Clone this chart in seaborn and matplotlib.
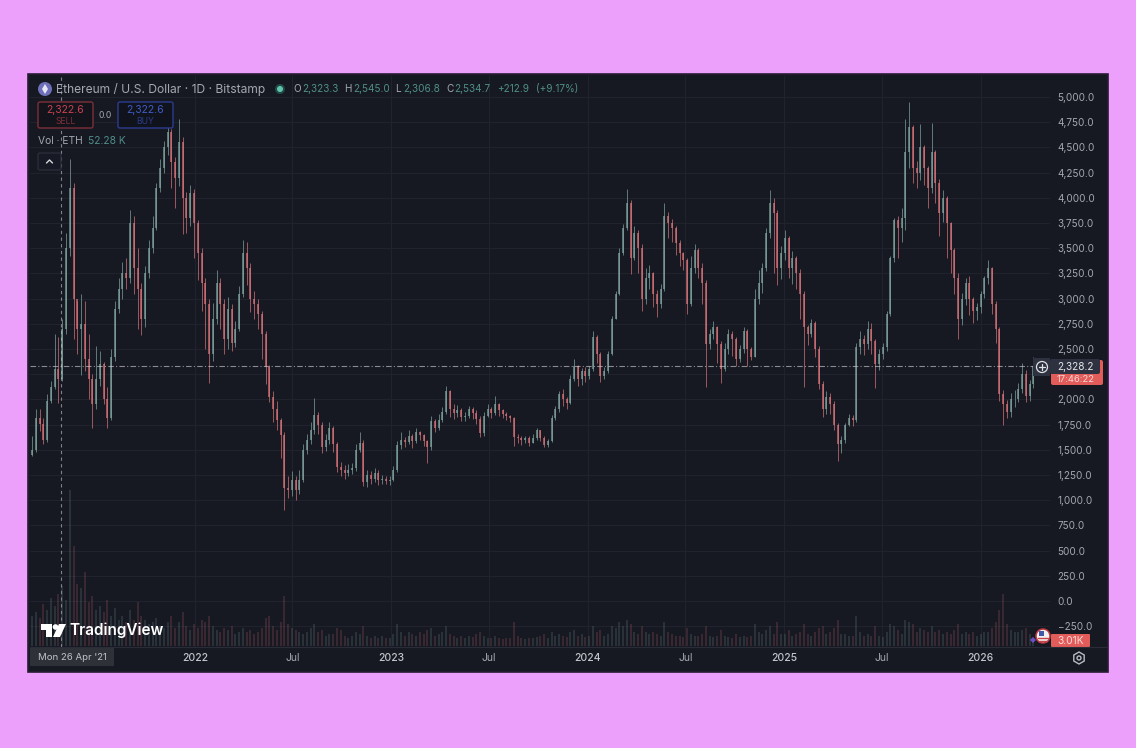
import pandas as pd
import seaborn as sns
import matplotlib as mpl
import matplotlib.pyplot as plt
from matplotlib.patches import Circle, FancyBboxPatch, Polygon, Rectangle, RegularPolygon
mpl.use('Agg')

first_open = 1450
closes = [
    1500, 1820, 1760, 1600, 1980, 2120, 2300, 2200, 2700, 3500,
    4100, 3000, 2700, 2750, 2400, 2200, 1950, 2200, 2350, 2000,
    1820, 2420, 2900, 3100, 3250, 3200, 3750, 3300, 3100, 2800,
    3250, 3500, 3700, 4100, 4300, 4500, 4650, 4350, 4200, 4550,
    4000, 3800, 4050, 3750, 3450, 3150, 2950, 2450, 2800, 3150,
    2950, 2600, 2900, 2560, 2700, 3050, 3450, 3300, 3000, 2950,
    2850, 2650, 2320, 2020, 1900, 1800, 1650, 1120, 1100, 1200,
    1100, 1200, 1500, 1600, 1700, 1850, 1750, 1530, 1600, 1720,
    1560, 1330, 1300, 1270, 1300, 1320, 1500, 1570, 1180, 1250,
    1210, 1270, 1200, 1210, 1190, 1200, 1300, 1550, 1600, 1580,
    1640, 1590, 1680, 1650, 1590, 1530, 1790, 1720, 1800, 1880,
    2080, 1900, 1870, 1890, 1830, 1840, 1900, 1870, 1810, 1670,
    1840, 1900, 1870, 1950, 1890, 1860, 1840, 1820, 1630, 1620,
    1600, 1620, 1570, 1620, 1700, 1620, 1550, 1590, 1820, 1900,
    2050, 2000, 1960, 2200, 2330, 2200, 2280, 2230, 2300, 2620,
    2450, 2230, 2280, 2450, 2800, 3050, 3450, 3700, 3950, 3400,
    3650, 3500, 3000, 3200, 3250, 3050, 2950, 3100, 3820, 3750,
    3700, 3550, 3450, 3380, 2950, 3300, 3480, 3300, 3150, 2550,
    2650, 2720, 2550, 2300, 2500, 2650, 2600, 2400, 2500, 2680,
    2500, 2420, 3000, 3150, 3300, 3650, 3950, 3850, 3300, 3450,
    3600, 3300, 3400, 3250, 3050, 2720, 2650, 2760, 2500, 2150,
    1900, 2020, 1950, 1750, 1560, 1600, 1750, 1820, 1800, 2520,
    2600, 2550, 2700, 2580, 2350, 2450, 2520, 2850, 3400, 3780,
    3700, 3800, 4450, 4700, 4300, 4250, 4500, 4300, 4100, 4450,
    4150, 3850, 4000, 3750, 3480, 3200, 2800, 3000, 3150, 3000,
    2880, 2920, 3050, 3200, 3300, 2950, 2700, 2050, 1950, 1880,
    2000, 2000, 2100, 2250, 2030, 2150, 2330]
highs = [
    1640, 1900, 1900, 1820, 2050, 2180, 2650, 2620, 2800, 3650,
    4380, 4150, 2980, 3050, 2980, 2650, 2250, 2530, 2480, 2370,
    2120, 2500, 2980, 3200, 3360, 3400, 3880, 3820, 3500, 3150,
    3320, 3580, 3820, 4150, 4380, 4560, 4720, 4680, 4400, 4780,
    4600, 4060, 4130, 4090, 3780, 3500, 3200, 3000, 2960, 3280,
    3200, 3000, 3020, 2950, 2780, 3120, 3580, 3560, 3350, 3080,
    3000, 2880, 2680, 2340, 2080, 1980, 1820, 1680, 1240, 1290,
    1240, 1300, 1560, 1660, 1780, 2010, 1880, 1780, 1660, 1780,
    1740, 1580, 1380, 1350, 1360, 1370, 1560, 1680, 1600, 1300,
    1290, 1320, 1300, 1250, 1240, 1240, 1340, 1590, 1680, 1630,
    1700, 1660, 1720, 1690, 1660, 1600, 1840, 1810, 1860, 1920,
    2130, 2090, 1950, 1940, 1910, 1880, 1930, 1920, 1890, 1840,
    1880, 1950, 1920, 2030, 1960, 1900, 1880, 1850, 1830, 1660,
    1640, 1640, 1640, 1660, 1720, 1700, 1640, 1610, 1850, 1930,
    2080, 2100, 2020, 2240, 2400, 2340, 2310, 2320, 2330, 2680,
    2640, 2470, 2320, 2480, 2830, 3080, 3500, 3740, 4090, 3980,
    3720, 3680, 3540, 3300, 3330, 3260, 3090, 3140, 3950, 3860,
    3790, 3720, 3580, 3460, 3400, 3420, 3540, 3500, 3350, 3180,
    2700, 2780, 2730, 2580, 2560, 2700, 2680, 2620, 2540, 2720,
    2700, 2520, 3100, 3280, 3350, 3700, 4080, 4000, 3880, 3520,
    3680, 3620, 3470, 3420, 3290, 3080, 2740, 2800, 2780, 2530,
    2180, 2080, 2060, 1980, 1770, 1640, 1770, 1860, 1850, 2560,
    2680, 2640, 2780, 2760, 2600, 2500, 2560, 2880, 3420, 3800,
    3820, 3900, 4780, 4950, 4720, 4360, 4730, 4520, 4320, 4740,
    4470, 4190, 4080, 4020, 3760, 3500, 3250, 3060, 3200, 3220,
    3020, 2960, 3080, 3220, 3380, 3310, 2980, 2720, 2090, 1990,
    2060, 2090, 2160, 2360, 2290, 2190, 2420]
lows = [
    1440, 1480, 1690, 1560, 1580, 1960, 2100, 1960, 2180, 2650,
    3420, 2600, 2450, 2240, 2280, 2000, 1720, 1900, 2130, 1950,
    1720, 1800, 2380, 2860, 3000, 3100, 3150, 3050, 2700, 2640,
    2720, 3200, 3450, 3680, 4060, 4250, 4420, 4100, 3900, 4120,
    3640, 3650, 3720, 3400, 3180, 2880, 2500, 2160, 2380, 2750,
    2700, 2450, 2500, 2480, 2520, 2680, 3020, 3130, 2870, 2800,
    2700, 2400, 2150, 1970, 1780, 1700, 1420, 900, 1020, 1040,
    1000, 1060, 1180, 1460, 1560, 1660, 1660, 1470, 1490, 1560,
    1480, 1280, 1240, 1210, 1240, 1260, 1290, 1480, 1140, 1130,
    1160, 1180, 1150, 1160, 1160, 1150, 1190, 1280, 1510, 1530,
    1560, 1520, 1570, 1600, 1540, 1370, 1500, 1680, 1700, 1780,
    1860, 1830, 1810, 1830, 1790, 1790, 1820, 1810, 1760, 1630,
    1640, 1830, 1820, 1850, 1840, 1820, 1800, 1780, 1540, 1570,
    1550, 1570, 1540, 1570, 1600, 1590, 1530, 1530, 1580, 1800,
    1880, 1930, 1900, 1950, 2180, 2130, 2140, 2170, 2200, 2280,
    2360, 2170, 2200, 2260, 2440, 2800, 3040, 3430, 3680, 3240,
    3380, 3250, 2880, 2950, 3100, 2920, 2820, 2910, 3080, 3600,
    3560, 3430, 3320, 3280, 2850, 2930, 3250, 3200, 2950, 2120,
    2500, 2600, 2360, 2160, 2280, 2450, 2430, 2330, 2370, 2460,
    2330, 2390, 2420, 2950, 3060, 3270, 3600, 3250, 3130, 3190,
    3380, 3200, 3140, 3100, 2800, 2120, 2540, 2620, 2420, 2100,
    1830, 1860, 1860, 1700, 1390, 1470, 1570, 1740, 1740, 1780,
    2450, 2440, 2500, 2450, 2110, 2290, 2400, 2480, 2830, 3360,
    3400, 3560, 3680, 4300, 4150, 4100, 4180, 4130, 3900, 4050,
    3950, 3620, 3760, 3400, 3250, 3050, 2600, 2740, 2940, 2840,
    2760, 2790, 2860, 3010, 3140, 2850, 2560, 1980, 1750, 1820,
    1830, 1920, 1970, 2060, 1970, 1980, 2110]
volumes = [
    30, 34, 28, 42, 36, 48, 40, 52, 60, 46,
    156, 100, 62, 58, 74, 44, 50, 36, 40, 34,
    46, 30, 38, 26, 30, 24, 36, 26, 44, 30,
    26, 22, 24, 28, 20, 18, 24, 30, 18, 24,
    34, 20, 16, 22, 18, 26, 24, 30, 20, 16,
    14, 18, 16, 20, 12, 14, 18, 14, 16, 12,
    14, 18, 28, 30, 20, 16, 24, 50, 22, 18,
    16, 14, 12, 14, 18, 22, 14, 16, 10, 12,
    12, 18, 16, 10, 8, 10, 14, 12, 20, 10,
    8, 10, 8, 10, 8, 8, 12, 22, 14, 10,
    14, 12, 10, 14, 12, 16, 18, 10, 12, 14,
    20, 12, 10, 8, 10, 8, 10, 9, 12, 14,
    10, 8, 8, 10, 8, 7, 8, 8, 24, 10,
    8, 7, 8, 8, 9, 10, 12, 8, 14, 10,
    12, 10, 9, 14, 16, 10, 12, 9, 10, 20,
    14, 16, 10, 12, 20, 18, 24, 20, 26, 22,
    14, 12, 20, 14, 12, 14, 12, 10, 24, 14,
    12, 10, 10, 9, 18, 12, 10, 10, 12, 20,
    10, 9, 10, 16, 10, 9, 8, 12, 9, 10,
    9, 10, 22, 14, 12, 16, 20, 12, 24, 12,
    12, 16, 10, 12, 14, 22, 12, 10, 14, 18,
    20, 12, 14, 18, 26, 12, 12, 10, 10, 30,
    14, 10, 12, 10, 20, 10, 9, 14, 22, 20,
    16, 12, 26, 24, 22, 14, 18, 16, 14, 20,
    14, 16, 12, 14, 12, 16, 22, 12, 14, 12,
    14, 10, 12, 14, 14, 18, 24, 36, 52, 22,
    16, 14, 14, 16, 18, 12, 8]

price_ticks = [-250, 0, 250, 500, 750, 1000, 1250, 1500, 1750, 2000, 2250, 2500,
               2750, 3000, 3250, 3500, 3750, 4000, 4250, 4500, 4750, 5000]
time_ticks = ['2022-01-01', '2022-07-01', '2023-01-01', '2023-07-01', '2024-01-01',
              '2024-07-01', '2025-01-01', '2025-07-01', '2026-01-01']
time_labels = ['2022', 'Jul', '2023', 'Jul', '2024', 'Jul', '2025', 'Jul', '2026']
last_price = 2328.2
cross_date = '2021-04-26'

PINK = '#ec9ffb'
PANE = '#161822'
GRID = '#20232e'
UP = '#80a5a0'
DOWN = '#d8747a'
TEXT = '#a4a7b0'
TEAL = '#4f8f86'

sns.set_theme(style='dark', rc={
    'figure.facecolor': PINK,
    'axes.facecolor': PANE,
    'axes.edgecolor': PANE,
    'grid.color': GRID,
    'grid.linewidth': 0.8,
})
plt.rcParams['font.family'] = ['Inter', 'DejaVu Sans']

W, H = 1136, 748
fig = plt.figure(figsize=(W / 100, H / 100), dpi=100)

# panel behind everything and a pixel layer on top for the UI bits
bg = fig.add_axes([0, 0, 1, 1], zorder=0)
bg.set_xlim(0, W)
bg.set_ylim(H, 0)
bg.axis('off')
bg.add_patch(Rectangle((28, 74), 1080, 598, fc=PANE, ec='#2a1d36', lw=1.2))

rect = [30 / W, 1 - 647 / H, 1020 / W, 571 / H]
ax = fig.add_axes(rect, zorder=1)
ax_vol = fig.add_axes(rect, zorder=2)
ax_vol.patch.set_alpha(0)
ax_ui = fig.add_axes([0, 0, 1, 1], zorder=3)
ax_ui.set_xlim(0, W)
ax_ui.set_ylim(H, 0)
ax_ui.axis('off')
ax_ui.patch.set_alpha(0)

dates = pd.date_range('2021-03-04', periods=len(closes), freq='7D')
opens = [first_open] + closes[:-1]
df = pd.DataFrame({'date': dates, 'open': opens, 'high': highs, 'low': lows,
                   'close': closes, 'vol': volumes})
df['side'] = ['up' if c >= o else 'down' for o, c in zip(df['open'], df['close'])]
df['idx'] = range(len(df))
palette = {'up': UP, 'down': DOWN}


def segments(lo, hi):
    long_df = df.melt(id_vars=['idx', 'date', 'side'], value_vars=[lo, hi], value_name='y')
    return long_df.sort_values(['idx', 'variable'])


def draw(target, data, width, alpha):
    sns.lineplot(data=data, x='date', y='y', units='idx', estimator=None, hue='side',
                 palette=palette, legend=False, ax=target, lw=width, alpha=alpha,
                 solid_capstyle='butt', sort=False)


draw(ax, segments('low', 'high'), 0.7, 0.7)
draw(ax, segments('open', 'close'), 1.15, 0.85)

df['base'] = 0
draw(ax_vol, segments('base', 'vol'), 1.2, 0.22)

xlim = (pd.Timestamp('2022-01-01') - pd.Timedelta(days=307),
        pd.Timestamp('2022-01-01') + pd.Timedelta(days=1590))
ax.set_xlim(xlim)
ax.set_ylim(-456, 5208)
ax_vol.set_xlim(xlim)
ax_vol.set_ylim(-1, 570)
ax_vol.axis('off')

ax.set_xlabel('')
ax.set_ylabel('')
ax.yaxis.tick_right()
ax.set_yticks(price_ticks)
ax.set_yticklabels([f'{v:,.1f}'.replace('-', '\u2212') for v in price_ticks], size=7.2, color=TEXT)
ax.set_xticks(pd.to_datetime(time_ticks))
ax.set_xticklabels(time_labels, size=7.5, color=TEXT)
for lab, txt in zip(ax.get_xticklabels(), time_labels):
    if txt != 'Jul':
        lab.set_fontweight('medium')
        lab.set_color('#c4c6cc')
ax.tick_params(axis='both', length=0)
ax.tick_params(axis='y', pad=5.5)
ax.tick_params(axis='x', pad=4.5)
ax.grid(True)
ax.set_axisbelow(True)
for s in ax.spines.values():
    s.set_visible(False)

ax.axhline(last_price, color='#c9c9cc', lw=0.8, ls=(0, (5, 2, 1, 2)), alpha=0.65)
ax.axvline(pd.Timestamp(cross_date), color='#c9c9cc', lw=0.8, ls=(0, (3, 3)), alpha=0.6)

# ---- UI layer, all in screen pixels
ui = ax_ui


def label(x, y, s, color=TEXT, size=8, ha='left', **kw):
    ui.text(x, y, s, color=color, size=size, ha=ha, va='center', **kw)


def box(x, y, w, h, fc, ec='none', lw=1, r=2):
    ui.add_patch(FancyBboxPatch((x + r, y + r), w - 2 * r, h - 2 * r,
                                boxstyle=f'round,pad={r}', fc=fc, ec=ec, lw=lw))


ui.plot([30, 1107], [647, 647], color='#2a2d38', lw=0.8)

# header
ui.add_patch(Circle((45, 89), 7, fc='#6d70b8', ec='none'))
ui.add_patch(Polygon([(45, 84), (48, 89), (45, 94), (42, 89)], fc='#e6e6f5', ec='none'))
label(56, 89, 'Ethereum / U.S. Dollar · 1D · Bitstamp', size=8.7)
ui.add_patch(Circle((280, 89), 5, fc='#1f4a47', ec='none'))
ui.add_patch(Circle((280, 89), 3, fc='#62c4ad', ec='none'))
for x, s, c in [(293, 'O', TEXT), (302, '2,323.3', TEAL), (344, 'H', TEXT), (353, '2,545.0', TEAL),
                (395, 'L', TEXT), (403, '2,306.8', TEAL), (446, 'C', TEXT), (454, '2,534.7', TEAL),
                (497, '+212.9', TEAL), (536, '(+9.17%)', TEAL)]:
    label(x, 89, s, color=c, size=7.2)

# sell / buy
box(38, 102, 55, 26, '#12131b', ec='#7c2f39')
label(65.5, 110, '2,322.6', color='#c8434f', size=7.5, ha='center')
label(65.5, 121, 'SELL', color='#7e2f38', size=6.2, ha='center')
label(105, 115, '0.0', size=6.2, ha='center')
box(118, 102, 55, 26, '#10121c', ec='#2c3d90')
label(145.5, 110, '2,322.6', color='#3f5cc8', size=7.5, ha='center')
label(145.5, 121, 'BUY', color='#2c3d88', size=6.2, ha='center')
label(38, 141, 'Vol · ETH', size=7.4)
label(88, 141, '52.28 K', color=TEAL, size=7.4)
box(38, 153, 23, 17, '#171a24', ec='#2b2e39')
ui.plot([46.5, 49.5, 52.5], [163, 160, 163], color='#d5d6da', lw=1)

# logo
ui.add_patch(Polygon([(41, 624), (52, 624), (52, 637), (46, 637), (46, 630), (41, 630)], fc='white', ec='none'))
ui.add_patch(Circle((55.5, 627), 2.8, fc='white', ec='none'))
ui.add_patch(Polygon([(59, 624), (66, 624), (60, 637), (53, 637)], fc='white', ec='none'))
label(69, 630, 'TradingView', color='white', size=11, fontweight='semibold')

# crosshair date
ui.add_patch(Rectangle((30, 648), 84, 18, fc='#2f3139', ec='none'))
label(72, 658, "Mon 26 Apr '21", color='#c2c4ca', size=6.9, ha='center')

# last price labels
box(1051, 360, 52, 25, '#e25c5a')
label(1076, 379.5, '17:46:22', color='#f6d6d6', size=6.8, ha='center')
box(1050, 359, 50, 15, '#2e3240')
label(1075, 366.5, '2,328.2', color='#e4e5e8', size=7.2, ha='center')
ui.add_patch(Rectangle((1033, 358), 17, 18, fc='#2e3240', ec='none'))
ui.add_patch(Circle((1042, 367), 5.5, fc='#2e3240', ec='#e0e1e4', lw=0.9))
ui.plot([1039, 1045], [367, 367], color='#e0e1e4', lw=0.9)
ui.plot([1042, 1042], [364, 370], color='#e0e1e4', lw=0.9)

# volume label and flag
box(1051, 634, 39, 13, '#e25c5a', r=1)
label(1070.5, 640.5, '3.01K', color='#f8dcdc', size=7.4, ha='center')
ui.add_patch(Polygon([(1033, 637), (1036, 640), (1033, 643), (1030, 640)], fc='#6a4fc0', ec='none'))
ui.add_patch(Circle((1043, 636), 7, fc='#f1f1f4', ec='#b8363c', lw=1.1))
ui.add_patch(Rectangle((1038.5, 631), 5, 5, fc='#3f5aa8', ec='none'))
ui.plot([1038, 1048], [637.5, 637.5], color='#c8444a', lw=1)
ui.plot([1039, 1047], [640.5, 640.5], color='#c8444a', lw=1)

# settings gear
ui.add_patch(RegularPolygon((1079, 658), 6, radius=6, fc='none', ec='#b9bbc1', lw=1))
ui.add_patch(Circle((1079, 658), 2, fc='none', ec='#b9bbc1', lw=1))

fig.savefig('out.png', dpi=100, facecolor=PINK)
